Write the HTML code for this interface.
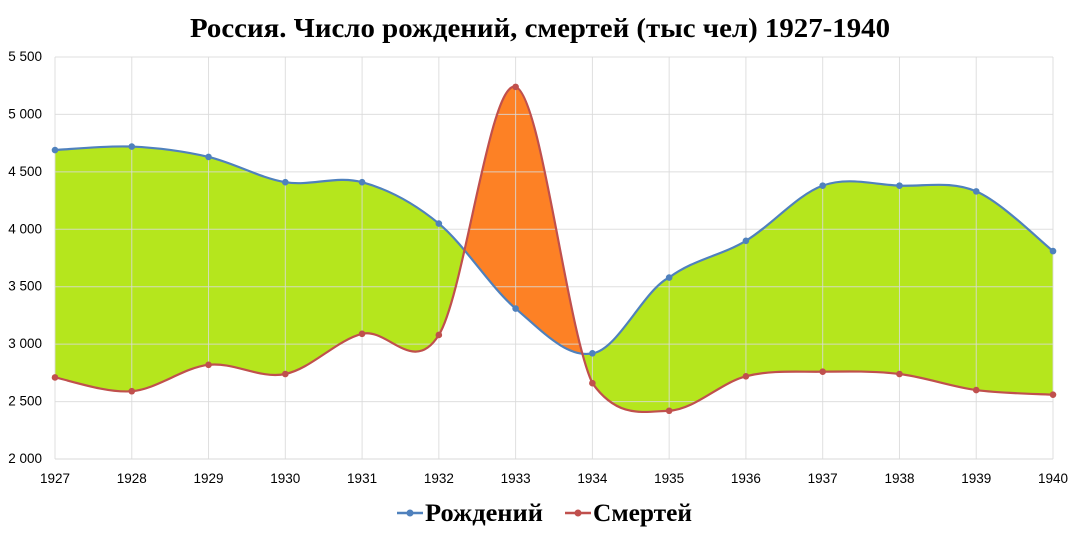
<!DOCTYPE html>
<html><head><meta charset="utf-8"><style>
html,body{margin:0;padding:0;background:#fff;width:1083px;height:538px;overflow:hidden;}
svg{display:block;}
</style></head><body>
<svg id="s" width="1083" height="538" xmlns="http://www.w3.org/2000/svg">
<defs>
<clipPath id="aboveD"><path id="cpD"/></clipPath>
<clipPath id="aboveB"><path id="cpB"/></clipPath>
</defs>
<rect width="1083" height="538" fill="#fff"/>
<g id="fills"></g>
<g id="grid" stroke="#d9d9d9" stroke-width="1"></g>
<g id="lines"></g>
<g font-family="'Liberation Sans','DejaVu Sans',sans-serif" font-size="13.5" fill="#000" id="labels"></g>
<text x="540" y="37" text-anchor="middle" font-family="'Liberation Serif','DejaVu Serif',serif" font-weight="bold" font-size="27" textLength="700" lengthAdjust="spacingAndGlyphs">Россия. Число рождений, смертей (тыс чел) 1927-1940</text>
<g font-family="'Liberation Serif','DejaVu Serif',serif" font-weight="bold" font-size="25">
<line x1="397" y1="513" x2="423" y2="513" stroke="#4f81bd" stroke-width="2.5"/><circle cx="410" cy="513" r="3.5" fill="#4f81bd"/>
<text x="425" y="521" textLength="118" lengthAdjust="spacingAndGlyphs">Рождений</text>
<line x1="565" y1="513" x2="591" y2="513" stroke="#c0504d" stroke-width="2.5"/><circle cx="578" cy="513" r="3.5" fill="#c0504d"/>
<text x="593" y="521" textLength="99" lengthAdjust="spacingAndGlyphs">Смертей</text>
</g>
</svg>
<script>
var NS="http://www.w3.org/2000/svg";
var B=[4690,4720,4630,4410,4410,4050,3310,2920,3580,3900,4380,4380,4330,3810];
var D=[2710,2590,2820,2740,3090,3080,5240,2660,2420,2720,2760,2740,2600,2560];
function X(i){return 55+i*998/13;}
function Y(v){return 459-(v-2000)*402/3500;}
function pts(a){return a.map(function(v,i){return [X(i),Y(v)];});}
function curve(p){var d="";for(var i=0;i<p.length-1;i++){var p0=p[Math.max(0,i-1)],p1=p[i],p2=p[i+1],p3=p[Math.min(p.length-1,i+2)];
var k1=(i==7)?9:6,k2=(i==7)?9:6;
var c1=[p1[0]+(p2[0]-p0[0])/6,p1[1]+(p2[1]-p0[1])/k1],c2=[p2[0]-(p3[0]-p1[0])/6,p2[1]-(p3[1]-p1[1])/k2];
d+=" C"+c1.join(",")+" "+c2.join(",")+" "+p2.join(",");}return d;}
var pb=pts(B),pd=pts(D);
var cb="M"+pb[0].join(",")+curve(pb), cd="M"+pd[0].join(",")+curve(pd);
var L=X(0),R=X(13);
document.getElementById("cpD").setAttribute("d",cd+" L"+R+",0 L"+L+",0 Z");
document.getElementById("cpB").setAttribute("d",cb+" L"+R+",0 L"+L+",0 Z");
function el(t,a,par){var e=document.createElementNS(NS,t);for(var k in a)e.setAttribute(k,a[k]);document.getElementById(par).appendChild(e);return e;}
el("path",{d:cb+" L"+R+",600 L"+L+",600 Z",fill:"#b5e61d","clip-path":"url(#aboveD)"},"fills");
el("path",{d:cd+" L"+R+",600 L"+L+",600 Z",fill:"#fd8125","clip-path":"url(#aboveB)"},"fills");
for(var v=2000;v<=5500;v+=500){el("line",{x1:L,x2:R,y1:Y(v),y2:Y(v),"stroke-opacity":v==2000?1:0.85},"grid");
var t=el("text",{x:42,y:Y(v)+4,"text-anchor":"end"},"labels");t.textContent=(v+"").replace(/(\d)(\d{3})$/,"$1 $2");}
for(var i=0;i<14;i++){el("line",{x1:X(i),x2:X(i),y1:Y(5500),y2:Y(2000),"stroke-opacity":0.85},"grid");
var t=el("text",{x:X(i),y:483,"text-anchor":"middle"},"labels");t.textContent=1927+i;}
el("path",{d:cb,fill:"none",stroke:"#4f81bd","stroke-width":2.2},"lines");
el("path",{d:cd,fill:"none",stroke:"#c0504d","stroke-width":2.2},"lines");
pb.forEach(function(p){el("circle",{cx:p[0],cy:p[1],r:3.3,fill:"#4f81bd"},"lines");});
pd.forEach(function(p){el("circle",{cx:p[0],cy:p[1],r:3.3,fill:"#c0504d"},"lines");});
</script>
</body></html>
